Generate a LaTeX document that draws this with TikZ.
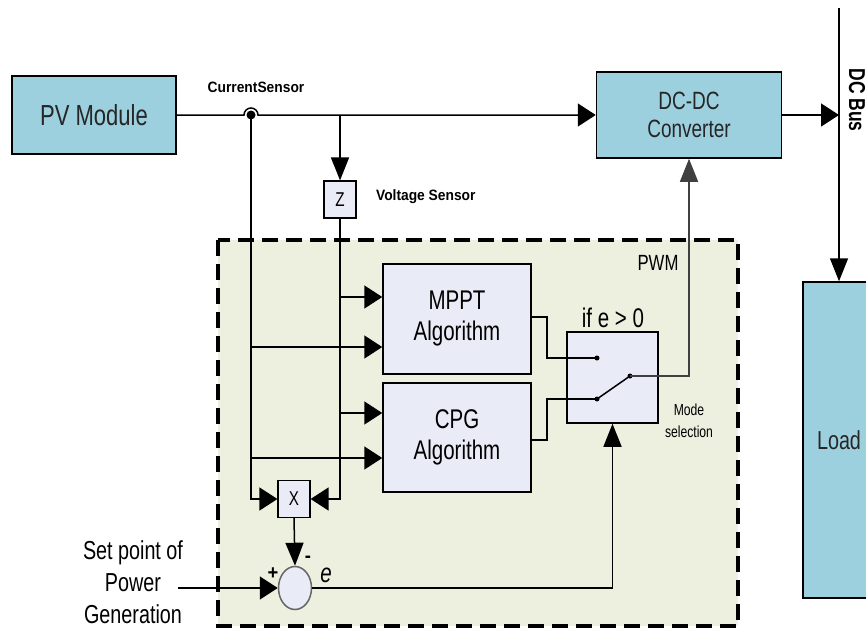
\documentclass[tikz,border=0pt]{standalone}
\usepackage{fontspec}
\setmainfont[FakeStretch=0.76]{Liberation Sans}
\newfontfamily\lblfont[FakeStretch=0.92]{Liberation Sans}
\usetikzlibrary{arrows.meta,shapes.geometric}
\definecolor{pvblue}{HTML}{9DD0DE}
\definecolor{algfill}{HTML}{E9ECF6}
\definecolor{pwmfill}{HTML}{EDF0DF}
\tikzset{
  blk/.style={draw,line width=1.5pt,fill=pvblue,text=black!85,align=center},
  algblk/.style={draw,line width=1.5pt,fill=algfill,align=center},
  sensblk/.style={draw,line width=1.2pt,fill=algfill,minimum width=32pt,minimum height=37pt,inner sep=0pt,font=\fontsize{20}{20}\selectfont},
  harr/.style={-{Triangle[length=18pt,width=23pt]}},
  varr/.style={-{Triangle[length=23pt,width=18pt]}},
  lbl/.style={font=\lblfont\bfseries\fontsize{15}{15}\selectfont},
}

\begin{document}
\begin{tikzpicture}[x=1pt,y=-1pt,line width=1.5pt]
\useasboundingbox (0,0) rectangle (866,629);
% control region
\draw[fill=pwmfill,line width=4pt,dash pattern=on 16pt off 8pt] (218,240) rectangle (738,626);
% power stage
\node[blk,minimum width=164pt,minimum height=78pt,font=\fontsize{29}{32}\selectfont] (pv) at (94,115) {PV Module};
\node[blk,minimum width=185pt,minimum height=86pt,font=\fontsize{25}{28}\selectfont] (dcdc) at (689,115) {DC-DC\\Converter};
\node[blk,minimum width=72pt,minimum height=316pt,font=\fontsize{26}{28}\selectfont] (load) at (839,440) {Load};
% controller blocks
\node[algblk,minimum width=148pt,minimum height=110pt,font=\fontsize{27}{31}\selectfont] (mppt) at (457,319) {MPPT\\Algorithm};
\node[algblk,minimum width=148pt,minimum height=109pt,font=\fontsize{27}{31}\selectfont] (cpg) at (457,437.5) {CPG\\Algorithm};
\node[algblk,minimum width=91pt,minimum height=91pt] (mode) at (612.5,377.5) {};
\node[sensblk] (zbox) at (340,199.5) {Z};
\node[sensblk] (xbox) at (294,499) {X};
\node[ellipse,draw=black!60,line width=1.5pt,fill=algfill,minimum width=33pt,minimum height=43pt,inner sep=0pt] (sum) at (295,588) {};
% labels
\node[lbl] (cslbl) at (256,87) {CurrentSensor};
\node[lbl,anchor=west] (vslbl) at (372,197) {Voltage Sensor};
\node[font=\fontsize{22}{22}\selectfont] (pwmlbl) at (658,263) {PWM};
\node[font=\fontsize{27}{27}\selectfont] (cond) at (613,318) {if e > 0};
\node[font=\fontsize{16}{22}\selectfont,align=center] (modelbl) at (689,421) {Mode\\selection};
\node[align=center,font=\fontsize{26}{32}\selectfont] (sp) at (133,582) {Set point of\\Power\\Generation};
\node[font=\lblfont\bfseries\fontsize{20}{20}\selectfont] (plus) at (273,574) {+};
\node[font=\lblfont\bfseries\fontsize{20}{20}\selectfont] (minus) at (308,559) {-};
\node[font=\fontsize{27}{27}\selectfont] (elbl) at (326,575) {\textit{e}};
\node[font=\bfseries\fontsize{23}{23}\selectfont,rotate=-90] (buslbl) at (857,100) {DC Bus};
% junctions
\coordinate (cs) at (251,115);
\coordinate (vs) at (340,115);
\coordinate (bustop) at (839,8);
\coordinate (spin) at (178,588);
\coordinate (c1) at (597,358);
\coordinate (c2) at (597,399);
\coordinate (arm) at (630,376);
% main power path
\draw[harr] (pv.east) -- ([xshift=-7pt]cs) arc[start angle=180,end angle=0,radius=7pt] -- (dcdc.west);
\fill (cs) circle (4.5pt);
\draw[harr] (dcdc.east) -- (dcdc.east -| bustop);
\draw[varr] (bustop) -- (bustop |- load.north);
% sensors
\draw[varr] (vs) -- (zbox.north);
\draw[harr] (cs) |- (xbox.west);
\draw[harr] (zbox.south) |- (xbox.east);
\foreach \y/\src/\dst in {297/vs/mppt,347/cs/mppt,413/vs/cpg,458/cs/cpg}
  \draw[harr] (\src |- 0,\y) -- (\dst.west |- 0,\y);
% switch
\draw (mppt.east |- 0,317) -| (547,358) -- (c1);
\draw (cpg.east |- 0,440) -| (547,399) -- (c2);
\draw (c2) -- (arm);
\foreach \p in {c1,c2,arm} \fill (\p) circle (2.5pt);
\draw[varr,black!75] (arm) -| (dcdc.south);
% error signal
\draw[varr] (xbox.south) -- (sum.north);
\draw[harr] (spin) -- (sum.west);
\draw[varr] (sum.east) -| (mode.south);
\end{tikzpicture}
\end{document}
